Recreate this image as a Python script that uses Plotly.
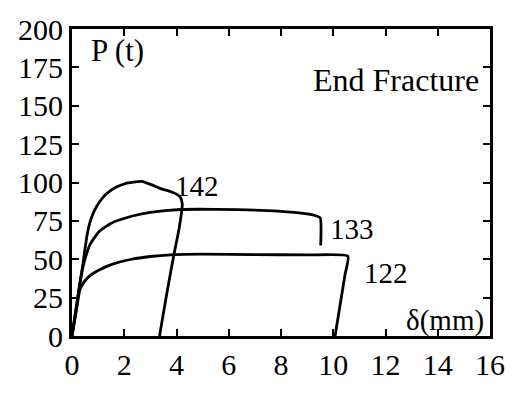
import plotly.graph_objects as go

# Curve 122
x122 = [0, 0.15, 0.3, 0.38, 0.5, 0.7, 1.04, 1.5, 2.28, 3.0, 3.77, 5.0, 7.0, 9.0, 10.56, 10.45, 10.07]
y122 = [0, 15, 30, 33, 36, 39.5, 43, 46.5, 50, 51.8, 52.9, 53.3, 53.0, 52.8, 52.0, 40, 0]
# Curve 133
x133 = [0, 0.15, 0.3, 0.42, 0.53, 0.7, 1.04, 1.5, 2.28, 3.0, 4.15, 5.5, 7.0, 8.5, 9.3, 9.5, 9.52]
y133 = [0, 17, 34, 45, 52, 60, 68, 73.5, 78, 80.5, 82.4, 82.5, 82.0, 80.5, 78.5, 77, 59]
# Curve 142
x142 = [0, 0.15, 0.3, 0.42, 0.5, 0.58, 0.67, 0.8, 0.93, 1.17, 1.42, 1.7, 2.04, 2.66, 3.03, 3.4, 3.78, 4.05, 4.16, 4.22, 4.1, 3.9, 3.6, 3.35]
y142 = [0, 17, 34, 47, 57, 66, 73, 79.5, 84, 90, 94, 97, 99.3, 100.7, 98.6, 96, 94, 92, 90, 86, 70, 53, 25, 0]

labels = ["122", "133", "142"]
label_pos = [(12.0, 41), (10.7, 70), (4.8, 98)]

xticks = list(range(0, 17, 2))
yticks = list(range(0, 201, 25))

FONT = "Liberation Serif"

fig = go.Figure()
for xs, ys in [(x122, y122), (x133, y133), (x142, y142)]:
    fig.add_trace(go.Scatter(x=xs, y=ys, mode="lines",
                             line=dict(color="black", width=2.8, shape="spline", smoothing=0.5),
                             showlegend=False, hoverinfo="skip"))

for lab, (lx, ly) in zip(labels, label_pos):
    fig.add_annotation(x=lx, y=ly, text=lab, showarrow=False,
                       font=dict(family=FONT, size=29, color="black"))

fig.add_annotation(x=0.04, y=0.995, xref="paper", yref="paper", text="P (t)",
                   showarrow=False, xanchor="left", yanchor="top",
                   font=dict(family=FONT, size=31, color="black"))
fig.add_annotation(x=0.978, y=0.835, xref="paper", yref="paper", text="End Fracture",
                   showarrow=False, xanchor="right", yanchor="middle",
                   font=dict(family=FONT, size=32, color="black"))
fig.add_annotation(x=0.99, y=0.05, xref="paper", yref="paper", text="δ(mm)",
                   showarrow=False, xanchor="right", yanchor="middle",
                   font=dict(family=FONT, size=29, color="black"))

axis_common = dict(showgrid=False, zeroline=False, showline=True, linecolor="black",
                   linewidth=3, mirror="ticks", ticks="inside", ticklen=7, tickwidth=2,
                   tickcolor="black", tickfont=dict(family=FONT, size=30, color="black"))

fig.update_xaxes(range=[0, 16], tickvals=xticks, ticktext=[str(v) for v in xticks], **axis_common)
fig.update_yaxes(range=[0, 200], tickvals=yticks, ticktext=[str(v) for v in yticks], **axis_common)

fig.update_layout(width=517, height=393, margin=dict(l=72, r=16, t=28, b=40),
                  paper_bgcolor="white", plot_bgcolor="white")

fig.write_html("out.html")
